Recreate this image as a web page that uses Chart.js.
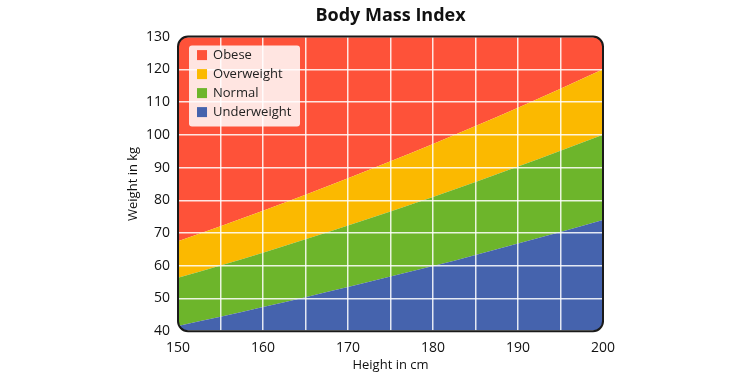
<!DOCTYPE html>
<html>
<head>
<meta charset="utf-8">
<script src="https://cdn.jsdelivr.net/npm/chart.js@4.4.0/dist/chart.umd.min.js"></script>
<style>
  html, body { margin: 0; padding: 0; background: #fff; }
  #wrap { width: 754px; height: 374px; }
</style>
</head>
<body>
<div id="wrap"><canvas id="bmichart"></canvas></div>
<script>
// height in cm
const heights = [150, 155, 160, 165, 170, 175, 180, 185, 190, 195, 200];
// boundary weights in kg
const underweightTop = [41.6, 44.4, 47.4, 50.4, 53.5, 56.7, 59.9, 63.3, 66.8, 70.3, 74.0];
const normalTop = [56.3, 60.1, 64.0, 68.1, 72.3, 76.6, 81.0, 85.6, 90.3, 95.1, 100.0];
const overweightTop = [67.5, 72.1, 76.8, 81.7, 86.7, 91.9, 97.2, 102.7, 108.3, 114.1, 120.0];
const obeseTop = [130, 130, 130, 130, 130, 130, 130, 130, 130, 130, 130];

const categories = ["Underweight", "Normal", "Overweight", "Obese"];
const colors = ["#4563ad", "#6db52b", "#fbb900", "#fe5239"];
const xTicks = [150, 160, 170, 180, 190, 200];
const yTicks = [40, 50, 60, 70, 80, 90, 100, 110, 120, 130];

const FONT = "'Open Sans', 'Noto Sans', sans-serif";

const toPoints = (arr) => arr.map((v, i) => ({ x: heights[i], y: v }));
const series = [underweightTop, normalTop, overweightTop, obeseTop];

const datasets = series.map((s, i) => ({
  label: categories[i],
  data: toPoints(s),
  backgroundColor: colors[i],
  borderColor: colors[i],
  borderWidth: 0,
  pointRadius: 0,
  fill: i === 0 ? "start" : "-1",
  cubicInterpolationMode: "monotone",
}));

function roundRect(ctx, x, y, w, h, r) {
  ctx.beginPath();
  ctx.moveTo(x + r, y);
  ctx.lineTo(x + w - r, y);
  ctx.arcTo(x + w, y, x + w, y + r, r);
  ctx.lineTo(x + w, y + h - r);
  ctx.arcTo(x + w, y + h, x + w - r, y + h, r);
  ctx.lineTo(x + r, y + h);
  ctx.arcTo(x, y + h, x, y + h - r, r);
  ctx.lineTo(x, y + r);
  ctx.arcTo(x, y, x + r, y, r);
  ctx.closePath();
}

const plotFrame = {
  id: "plotFrame",
  beforeDatasetsDraw(chart) {
    const a = chart.chartArea;
    const ctx = chart.ctx;
    ctx.save();
    roundRect(ctx, a.left, a.top, a.right - a.left, a.bottom - a.top, 10);
    ctx.clip();
  },
  afterDatasetsDraw(chart) {
    chart.ctx.restore();
  },
  afterDraw(chart) {
    const a = chart.chartArea;
    const ctx = chart.ctx;
    // legend box inside the plot
    const lx = a.left + 11, ly = a.top + 9;
    ctx.save();
    ctx.fillStyle = "rgba(255,255,255,0.85)";
    roundRect(ctx, lx, ly, 111, 81, 3);
    ctx.fill();
    ctx.font = "13px " + FONT;
    ctx.textBaseline = "middle";
    ctx.textAlign = "left";
    for (let k = 0; k < categories.length; k++) {
      const i = categories.length - 1 - k;
      const cy = ly + 9.5 + k * 19;
      ctx.fillStyle = colors[i];
      ctx.fillRect(lx + 8, cy - 5, 10, 10);
      ctx.fillStyle = "#222";
      ctx.fillText(categories[i], lx + 24, cy + 0.5);
    }
    // frame
    ctx.strokeStyle = "#1a1a1a";
    ctx.lineWidth = 2;
    roundRect(ctx, a.left, a.top, a.right - a.left, a.bottom - a.top, 10);
    ctx.stroke();
    ctx.restore();
  },
};

new Chart(document.getElementById("bmichart"), {
  type: "line",
  data: { datasets },
  plugins: [plotFrame],
  options: {
    responsive: true,
    maintainAspectRatio: false,
    animation: false,
    layout: { padding: { left: 127, right: 151, top: 0, bottom: 0 } },
    plugins: {
      legend: { display: false },
      tooltip: { enabled: false },
      title: {
        display: true,
        fullSize: false,
        text: "Body Mass Index",
        color: "#111",
        font: { family: FONT, size: 18, weight: "bold" },
        padding: { top: 5, bottom: 10 },
      },
      filler: { propagate: false },
    },
    scales: {
      x: {
        type: "linear",
        min: 150,
        max: 200,
        border: { display: false },
        grid: { z: 1, color: "rgba(255,255,255,0.85)", lineWidth: 1.5, drawTicks: false },
        ticks: {
          stepSize: 5,
          padding: 8,
          color: "#111",
          font: { family: FONT, size: 14 },
          callback: (v) => (xTicks.includes(v) ? v : ""),
        },
        title: {
          display: true,
          text: "Height in cm",
          color: "#111",
          font: { family: FONT, size: 13, lineHeight: 1 },
          padding: { top: -5, bottom: 2 },
        },
      },
      y: {
        min: 40,
        max: 130,
        border: { display: false },
        grid: { z: 1, color: "rgba(255,255,255,0.85)", lineWidth: 1.5, drawTicks: false },
        ticks: {
          stepSize: 10,
          padding: 8,
          color: "#111",
          font: { family: FONT, size: 14 },
          callback: (v) => (yTicks.includes(v) ? v : ""),
        },
        title: {
          display: true,
          text: "Weight in kg",
          color: "#111",
          font: { family: FONT, size: 13, lineHeight: 1 },
          padding: { top: 0, bottom: -2 },
        },
      },
    },
  },
});
</script>
</body>
</html>
